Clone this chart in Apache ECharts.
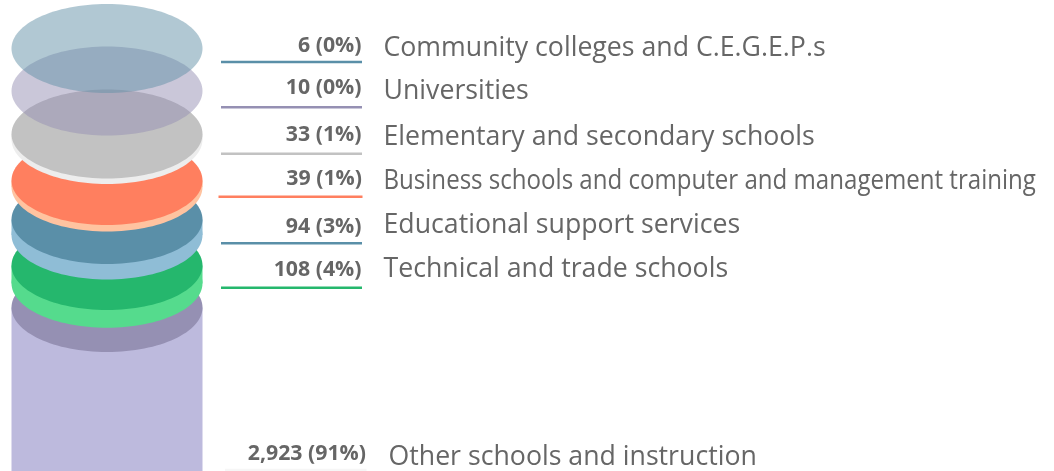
<!DOCTYPE html>
<html>
<head>
<meta charset="utf-8">
<style>
    html, body { margin: 0; padding: 0; background: #fff; }
    #stackChart { width: 1054px; height: 471px; }
</style>
</head>
<body>
<div id="stackChart"></div>
<script src="https://cdn.jsdelivr.net/npm/echarts@6/dist/echarts.min.js"></script>
<script>
    // data, top disc first
    var categories = [
        'Community colleges and C.E.G.E.P.s',
        'Universities',
        'Elementary and secondary schools',
        'Business schools and computer and management training',
        'Educational support services',
        'Technical and trade schools',
        'Other schools and instruction'
    ];
    var counts = [6, 10, 33, 39, 94, 108, 2923];
    var shares = [0, 0, 1, 1, 3, 4, 91];

    // layout, in units of the hidden y axis
    var discCentre = [48.5, 91, 134, 180.5, 219.5, 265.5, 307.5];
    var nameRow = [48.5, 91, 137, 181, 225.5, 269.5, 457];
    var countRow = [46, 88, 135, 178.5, 227, 270, 453.5];
    var leaderRow = [62, 107.3, 153.7, 196.7, 243.3, 287.7, 470];
    var countRight = [361.5, 361.5, 361.5, 362, 361.5, 361.5, 366];
    var nameLeft = [383.5, 383.5, 383.5, 383.5, 383.5, 383.5, 388.5];
    var leaderLeft = [221, 221, 221, 218.5, 221, 221, 225];
    var nameSqueeze = [1, 1, 1, 0.902, 1, 1, 1];

    // styles
    var topColors = ['rgba(99,145,167,0.5)', 'rgba(149,144,179,0.5)', '#c2c2c2', '#ff7f5f', '#5a8fa8', '#25b76d', '#9590b3'];
    var sideColors = ['transparent', 'transparent', '#ededed', '#ffc3a0', '#8fbdd6', '#55db8d', '#bdbadd'];
    var leaderColors = ['#5a8fa8', '#9590b3', '#c2c2c2', '#ff7f5f', '#5a8fa8', '#25b76d', '#f6f6f6'];

    var PX_PER_COUNT = 0.165;   // side height of a disc follows its count
    var RX = 95.5, RY = 44.5, CX = 107;
    var TEXT_COLOR = '#666666';
    var FONT = '"Open Sans", sans-serif';

    var chart = echarts.init(document.getElementById('stackChart'));

    function renderRow(params, api) {
        var i = api.value(0);
        var centre = api.coord([CX, discCentre[i]]);
        var side = api.size([0, 1])[1] * counts[i] * PX_PER_COUNT;
        var rx = api.size([RX, 0])[0];
        var ry = api.size([0, RY])[1];
        var leaderA = api.coord([leaderLeft[i], leaderRow[i]]);
        var leaderB = api.coord([countRight[i] + 0.5, leaderRow[i]]);
        var countPos = api.coord([countRight[i], countRow[i]]);
        var namePos = api.coord([nameLeft[i], nameRow[i]]);

        return {
            type: 'group',
            children: [
                {
                    type: 'ellipse',
                    shape: {cx: centre[0], cy: centre[1] + side, rx: rx, ry: ry},
                    style: {fill: sideColors[i]}
                },
                {
                    type: 'rect',
                    shape: {x: centre[0] - rx, y: centre[1], width: rx * 2, height: side},
                    style: {fill: sideColors[i]}
                },
                {
                    type: 'ellipse',
                    shape: {cx: centre[0], cy: centre[1], rx: rx, ry: ry},
                    style: {fill: topColors[i]}
                },
                {
                    type: 'line',
                    shape: {x1: leaderA[0], y1: leaderA[1], x2: leaderB[0], y2: leaderB[1]},
                    style: {stroke: leaderColors[i], lineWidth: 2.5}
                },
                {
                    type: 'text',
                    x: countPos[0],
                    y: countPos[1],
                    style: {
                        text: counts[i].toLocaleString('en-US') + ' (' + shares[i] + '%)',
                        fill: TEXT_COLOR,
                        font: 'bold 21.3px ' + FONT,
                        align: 'right',
                        verticalAlign: 'middle'
                    }
                },
                {
                    type: 'text',
                    x: namePos[0],
                    y: namePos[1],
                    scaleX: nameSqueeze[i],
                    style: {
                        text: categories[i],
                        fill: TEXT_COLOR,
                        font: '26.7px ' + FONT,
                        align: 'left',
                        verticalAlign: 'middle'
                    }
                }
            ]
        };
    }

    // bottom disc is painted first, the upper ones lie over it
    var rows = [];
    for (var i = categories.length - 1; i >= 0; i--) {
        rows.push([i]);
    }

    chart.setOption({
        animation: false,
        tooltip: {show: false},
        grid: {left: 0, right: 0, top: 0, bottom: 0},
        xAxis: {type: 'value', min: 0, max: 1054, show: false},
        yAxis: {type: 'value', min: 0, max: 471, inverse: true, show: false},
        series: [{
            type: 'custom',
            clip: true,
            silent: true,
            data: rows,
            encode: {x: 0, y: 0},
            renderItem: renderRow
        }]
    });
</script>
</body>
</html>
